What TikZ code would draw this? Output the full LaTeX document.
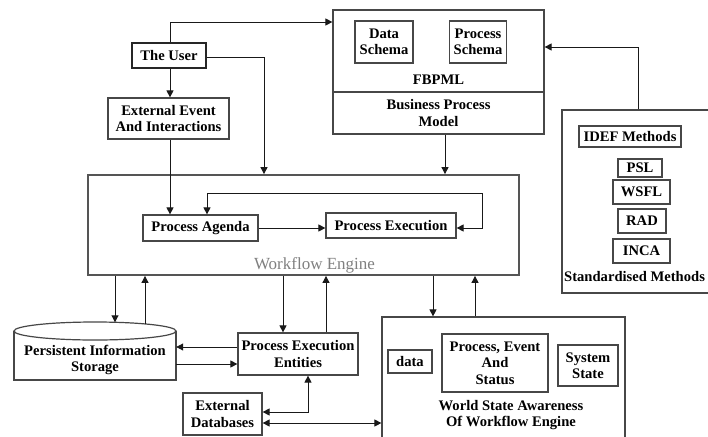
\documentclass[tikz,border=0pt]{standalone}
\usepackage{fontspec}
\setmainfont{Liberation Serif}
\usetikzlibrary{arrows.meta}
\begin{document}
\begin{tikzpicture}[x=1pt,y=-1pt,
  txt/.style={font=\fontsize{14.6}{16.5}\selectfont\bfseries, align=center, inner sep=0pt},
  box/.style={txt, draw=black!72, line width=1.2pt, fill=white},
  link/.style={draw=black!90, line width=0.9pt},
  tip/.style={-{Triangle[length=7pt,width=7pt]}},
  tips/.style={{Triangle[length=7pt,width=7pt]}-{Triangle[length=7pt,width=7pt]}},
]
\useasboundingbox (0,0) rectangle (708,436);
\clip (0,0) rectangle (708,436);

% --- upper left: user and external events
\node[box, line width=1.8pt, draw=black!85, minimum width=74pt, minimum height=25pt] (user) at (169,55.5) {The User};
\node[box, minimum width=121pt, minimum height=41pt] (ext) at (168.5,118.5) {External Event\\And Interactions};

% --- business process model
\node[box, minimum width=211pt, minimum height=124pt] (fbpml) at (438.5,72) {};
\node[box, minimum width=58pt, minimum height=42pt] (dschema) at (384,42) {Data\\Schema};
\node[box, minimum width=57pt, minimum height=42pt] (pschema) at (478,42) {Process\\Schema};
\node[txt] (fbpmllbl) at (438.5,80) {FBPML};
\coordinate (fdiv) at (0,92);
\draw[draw=black!72, line width=1.2pt] (fbpml.west |- fdiv) -- (fbpml.east |- fdiv);
\node[txt] (bpm) at (438.5,113) {Business Process\\Model};

% --- standardised methods
\node[box, minimum width=168pt, minimum height=183pt] (std) at (646,201.5) {};
\node[box, minimum width=102pt, minimum height=21pt] (idef) at (630,136.5) {IDEF Methods};
\node[box, minimum width=44pt, minimum height=18pt] (psl) at (640,168) {PSL};
\node[box, minimum width=57pt, minimum height=24pt] (wsfl) at (641.5,192) {WSFL};
\node[box, minimum width=48pt, minimum height=24pt] (rad) at (642,221) {RAD};
\node[box, minimum width=57pt, minimum height=24pt] (inca) at (641.5,251) {INCA};
\node[txt, anchor=west] (stdlbl) at (564,277) {Standardised Methods};

% --- workflow engine
\node[draw={rgb,255:red,85;green,85;blue,85}, line width=1.8pt, minimum width=431pt, minimum height=100pt, inner sep=0pt] (wf) at (303.5,225) {};
\node[font=\fontsize{17}{19}\selectfont, text={rgb,255:red,128;green,128;blue,128}, inner sep=0pt] (wflbl) at (314.5,265) {Workflow Engine};
\node[box, minimum width=115pt, minimum height=26pt] (agenda) at (200.5,228) {Process Agenda};
\node[box, minimum width=130pt, minimum height=25pt] (exec) at (391,225.5) {Process Execution};

% --- persistent storage cylinder
\draw[draw=black!72, line width=1.2pt, fill=white] (14,331) -- (14,380) -- (176,380) -- (176,331);
\draw[draw=black!72, line width=1.2pt, fill=white] (95,331) ellipse [x radius=81pt, y radius=9pt];
\node[txt, minimum width=162pt, minimum height=40pt] (pis) at (95,360) {Persistent Information\\Storage};
\coordinate (pistop1) at (115,322.3);
\coordinate (pistop2) at (145,324);

% --- lower nodes
\node[box, minimum width=120pt, minimum height=42pt] (pee) at (298,354) {Process Execution\\Entities};
\node[box, minimum width=79pt, minimum height=42pt] (extdb) at (222.5,414) {External\\Databases};

% --- world state awareness
\node[box, minimum width=243pt, minimum height=133pt] (world) at (503.5,383.5) {};
\node[box, minimum width=44pt, minimum height=23pt] (data) at (410,361.5) {data};
\node[box, minimum width=106pt, minimum height=58pt] (pes) at (495,363) {Process, Event\\And\\Status};
\node[box, minimum width=60pt, minimum height=41pt] (sys) at (588,365.5) {System\\State};
\node[txt] (worldlbl) at (511,415) {World State Awareness\\Of Workflow Engine};

% --- connectors, top part
\coordinate (ua) at (170,22);
\coordinate (ub) at (264,57);
\coordinate (fa) at (445,0);
\coordinate (sa) at (638,47);
\draw[link,tip] (user.north -| ua) -- (ua) -- (ua -| fbpml.west);
\draw[link,tip] (user.east |- ub) -- (ub) -- (ub |- wf.north);
\draw[link,tip] (user.south -| ua) -- (ext.north -| ua);
\draw[link,tip] (ext.south -| ua) -- (agenda.north -| ua);
\draw[link,tip] (fbpml.south -| fa) -- (wf.north -| fa);
\draw[link,tip] (std.north -| sa) -- (sa) -- (sa -| fbpml.east);

% --- connectors inside the engine
\coordinate (la) at (482,193);
\coordinate (lb) at (207,193);
\draw[link,tip] (agenda.east) -- (agenda.east -| exec.west);
\draw[link,tips] (agenda.east -| exec.east) -- (agenda.east -| la) -- (la) -- (lb) -- (lb |- agenda.north);

% --- connectors below the engine
\coordinate (c3) at (283,0);
\coordinate (c4) at (326,0);
\coordinate (c5) at (433,0);
\coordinate (c6) at (475,0);
\draw[link,tip] (wf.south -| pistop1) -- (pistop1);
\draw[link,tip] (pistop2) -- (wf.south -| pistop2);
\draw[link,tip] (wf.south -| c3) -- (pee.north -| c3);
\draw[link,tip] (pee.north -| c4) -- (wf.south -| c4);
\draw[link,tip] (wf.south -| c5) -- (world.north -| c5);
\draw[link,tip] (world.north -| c6) -- (wf.south -| c6);

% --- storage, entities, databases and world state
\coordinate (d1) at (0,347);
\coordinate (d2) at (0,364);
\coordinate (e1) at (308,412);
\coordinate (e2) at (0,423);
\draw[link,tip] (pee.west |- d1) -- (pis.east |- d1);
\draw[link,tip] (pis.east |- d2) -- (pee.west |- d2);
\draw[link,tips] (pee.south -| e1) -- (e1) -- (e1 -| extdb.east);
\draw[link,tips] (extdb.east |- e2) -- (world.west |- e2);
\end{tikzpicture}
\end{document}
